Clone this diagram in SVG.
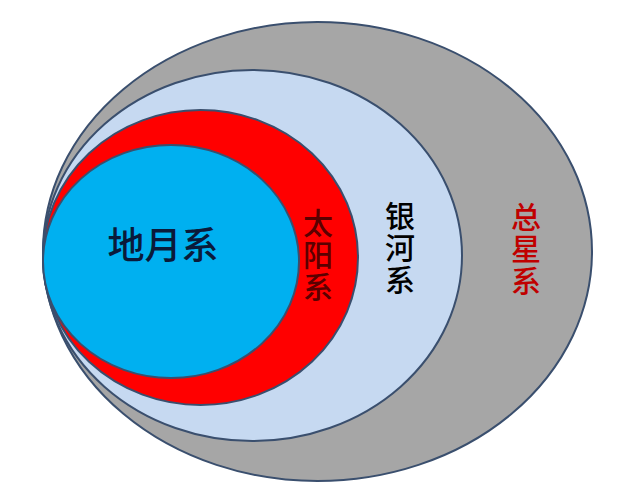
<svg xmlns="http://www.w3.org/2000/svg" width="640" height="501" viewBox="0 0 640 501">
<style>
.ring{stroke:#3a4f6e;stroke-width:2}
.lbl{font-family:"Noto Sans CJK SC","Liberation Sans",sans-serif;font-weight:500;text-anchor:middle}
.vert{writing-mode:vertical-rl;letter-spacing:2px;font-size:30px}
</style>
<rect width="640" height="501" fill="#ffffff"/>
<g id="zongxingxi">
<ellipse class="ring" cx="317.5" cy="251.5" rx="274.5" ry="229.5" fill="#a6a6a6"/>
<text class="lbl vert" x="526" y="250" fill="#c00000">总星系</text>
</g>
<g id="yinhexi">
<ellipse class="ring" cx="252.5" cy="255.5" rx="209.5" ry="185.5" fill="#c6d9f1"/>
<text class="lbl vert" x="400" y="249" fill="#000000">银河系</text>
</g>
<g id="taiyangxi">
<ellipse class="ring" cx="200.5" cy="257.5" rx="157.5" ry="147.5" fill="#ff0000"/>
<text class="lbl vert" x="318" y="256" fill="#5a0000">太阳系</text>
</g>
<g id="diyuexi">
<ellipse class="ring" cx="171" cy="261.5" rx="128" ry="116.5" fill="#00b0f0"/>
<text class="lbl" x="163" y="259" font-size="37" fill="#0a1a3a">地月系</text>
</g>
<g id="connectors"/>
</svg>
